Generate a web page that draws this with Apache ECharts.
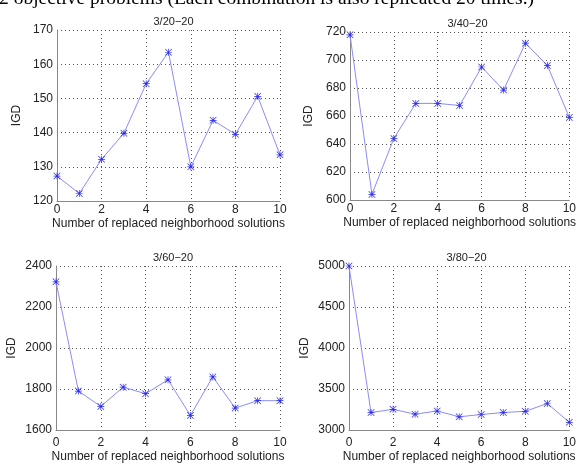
<!DOCTYPE html>
<html><head><meta charset="utf-8">
<script src="https://cdn.jsdelivr.net/npm/echarts@6/dist/echarts.min.js"></script>
<style>html,body{margin:0;padding:0;background:#fff}#c{width:579px;height:464px}</style>
</head><body><div id="c"></div>
<script>
var xValues = [0,1,2,3,4,5,6,7,8,9,10];
var titles = ['3/20\u221220','3/40\u221220','3/60\u221220','3/80\u221220'];
var igd_20 = [127.3,122.2,132.2,139.8,154.3,163.5,130.0,143.6,139.5,150.6,133.5];
var igd_40 = [718,604,644,669,669,667.5,695,678.5,712,696,659];
var igd_60 = [2323,1790,1715,1809,1777,1845,1671,1859,1707,1743,1743];
var igd_80 = [5000,3213,3252,3193,3232,3161,3189,3213,3228,3323,3094];
var yMin = [120,600,1600,3000];
var yMax = [170,720,2400,5000];
var yStep = [10,20,200,500];
var xTicks = {min:0,max:10,interval:2};
var headerText = '2 objective problems (Each combination is also replicated 20 times.)';
var xName = 'Number of replaced neighborhood solutions';
var yName = 'IGD';

var seriesData = [igd_20, igd_40, igd_60, igd_80];
var grids = [
  {left:57, top:30, width:223, height:171},
  {left:350, top:32, width:225, height:168},
  {left:56, top:266, width:224, height:170},
  {left:349, top:266, width:225, height:169}
];
var yGaps = [34,35,38,38];
var xLabelMargin = [3,3,7,7];
var xNameGap = [17,17,21,21];
var star = 'path://M4.5 0h1v10h-1Z M0 4.5h10v1h-10Z M0.7 0L10 9.3L9.3 10L0 0.7Z M9.3 0L10 0.7L0.7 10L0 9.3Z';
var font = 'Liberation Sans';
var plain = function(v){return String(v);};
var opt = {
  backgroundColor:'#fff',
  animation:false,
  title: grids.map(function(g,i){return {text:titles[i],left:g.left+g.width/2,top:g.top-19,textAlign:'center',
    textStyle:{fontFamily:font,fontSize:11,fontWeight:'normal',color:'#222'}};}),
  graphic:[{type:'text',left:-1,top:-11,style:{text:headerText,font:'19.5px "Liberation Serif"',fill:'#000'}}],
  grid: grids.map(function(g){return {left:g.left,top:g.top,width:g.width,height:g.height};}),
  xAxis: grids.map(function(g,i){return {type:'value',gridIndex:i,min:xTicks.min,max:xTicks.max,interval:xTicks.interval,
    name:xName,nameLocation:'middle',nameGap:xNameGap[i],nameTextStyle:{fontFamily:font,fontSize:12,color:'#222',verticalAlign:'top'},
    axisLine:{lineStyle:{color:'#888'}},axisTick:{show:false},
    axisLabel:{fontFamily:font,fontSize:12,color:'#222',margin:xLabelMargin[i],formatter:plain},
    splitLine:{show:true,lineStyle:{type:[1,3],color:'#555'}}};}),
  yAxis: grids.map(function(g,i){return {type:'value',gridIndex:i,min:yMin[i],max:yMax[i],interval:yStep[i],
    name:yName,nameLocation:'middle',nameGap:yGaps[i],nameTextStyle:{fontFamily:font,fontSize:12,color:'#222'},
    axisLine:{show:true,lineStyle:{color:'#888'}},axisTick:{show:false},
    axisLabel:{fontFamily:font,fontSize:12,color:'#222',margin:4,formatter:plain},
    splitLine:{show:true,lineStyle:{type:[1,3],color:'#555'}}};}),
  series: seriesData.map(function(d,i){return {type:'line',xAxisIndex:i,yAxisIndex:i,
    data:d.map(function(v,k){return [xValues[k],v];}),
    symbol:star,symbolSize:7,showAllSymbol:true,clip:false,
    lineStyle:{color:'#8c8cf5',width:1},itemStyle:{color:'#2a2af0'}};})
};
echarts.init(document.getElementById('c')).setOption(opt);
</script></body></html>
